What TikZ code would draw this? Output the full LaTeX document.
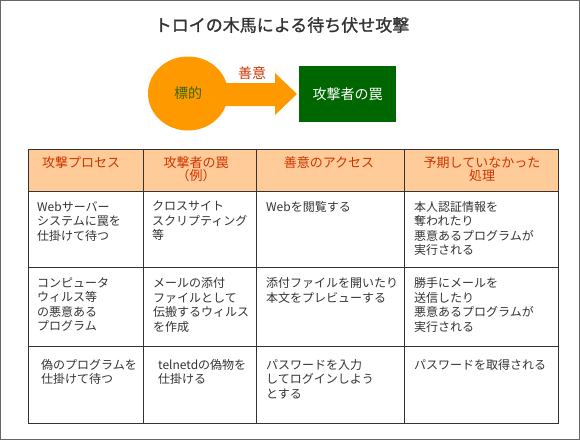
\documentclass[tikz,border=0pt]{standalone}
\usepackage{fontspec}
\newfontfamily\jp{Noto Sans CJK JP}
\newfontfamily\jptitle[FakeBold=1.2]{Noto Sans CJK JP}
\usetikzlibrary{shapes.geometric}

\definecolor{framegray}{HTML}{666666}
\definecolor{darktext}{HTML}{333333}
\definecolor{baitorange}{HTML}{FF9900}
\definecolor{headfill}{HTML}{FFCC99}
\definecolor{headred}{HTML}{CC3300}
\definecolor{trapgreen}{HTML}{006600}
\definecolor{labelgreen}{HTML}{336600}

\begin{document}
\begin{tikzpicture}[x=1pt,y=-1pt,
  head/.style={anchor=center,align=center,inner sep=0,text=headred,
    font=\jp\fontsize{13}{13}\selectfont},
  cell/.style={anchor=north west,align=left,inner sep=0,text=darktext,
    font=\jp\fontsize{12}{14.5}\selectfont}]

\useasboundingbox (0,0) rectangle (580,440);
\draw[framegray] (0.5,0.5) rectangle (579.5,439.5);

\node[text=darktext,font=\jptitle\fontsize{17}{17}\selectfont] (title) at (282,25) {トロイの木馬による待ち伏せ攻撃};

\node[ellipse,fill=baitorange,minimum width=80,minimum height=74,inner sep=0,
  text=labelgreen,font=\jp\fontsize{14}{14}\selectfont] (target) at (188,93.5) {標的};
\node[fill=trapgreen,minimum width=97,minimum height=56,inner sep=0,
  text=white,font=\jp\fontsize{14}{14}\selectfont] (trap) at (347.5,94) {攻撃者の罠};
\fill[baitorange] (220,83) -- (275,83) -- (275,73) -- (297,94) -- (275,115) -- (275,106) -- (220,106) -- cycle;
\node[text=headred,font=\jp\fontsize{14}{14}\selectfont] (goodwill) at (252,73) {善意};

% table
\fill[headfill] (28,149) rectangle (558,191);
\draw[darktext] (28,149) rectangle (558,423);
\draw[darktext] (28,191) -- (558,191);
\draw[darktext] (28,267) -- (558,267);
\draw[darktext] (28,346) -- (558,346);
\foreach \x in {143,256,404}
  \draw[darktext] (\x,149) -- (\x,423);

\node[head] (h1) at (81,163) {攻撃プロセス};
\node[head,anchor=north] (h2) at (196,156.5) {攻撃者の罠\\（例）};
\node[head] (h3) at (329,163) {善意のアクセス};
\node[head,anchor=north] (h4) at (482,156.5) {予期していなかった\\処理};

\node[cell] (c11) at (37,201) {Webサーバー\\システムに罠を\\仕掛けて待つ};
\node[cell] (c12) at (152,201) {クロスサイト\\スクリプティング\\等};
\node[cell] (c13) at (266,201) {Webを閲覧する};
\node[cell] (c14) at (414,201) {本人認証情報を\\奪われたり\\悪意あるプログラムが\\実行される};

\node[cell] (c21) at (37,277.5) {コンピュータ\\ウィルス等\\の悪意ある\\プログラム};
\node[cell] (c22) at (153,277.5) {メールの添付\\ファイルとして\\伝搬するウィルス\\を作成};
\node[cell] (c23) at (266,277.5) {添付ファイルを開いたり\\本文をプレビューする};
\node[cell] (c24) at (414,277.5) {勝手にメールを\\送信したり\\悪意あるプログラムが\\実行される};

\node[cell] (c31) at (41,359) {偽のプログラムを\\仕掛けて待つ};
\node[cell] (c32) at (158,359) {telnetdの偽物を\\仕掛ける};
\node[cell] (c33) at (266,359) {パスワードを入力\\してログインしよう\\とする};
\node[cell] (c34) at (414,359) {パスワードを取得される};
\end{tikzpicture}
\end{document}
